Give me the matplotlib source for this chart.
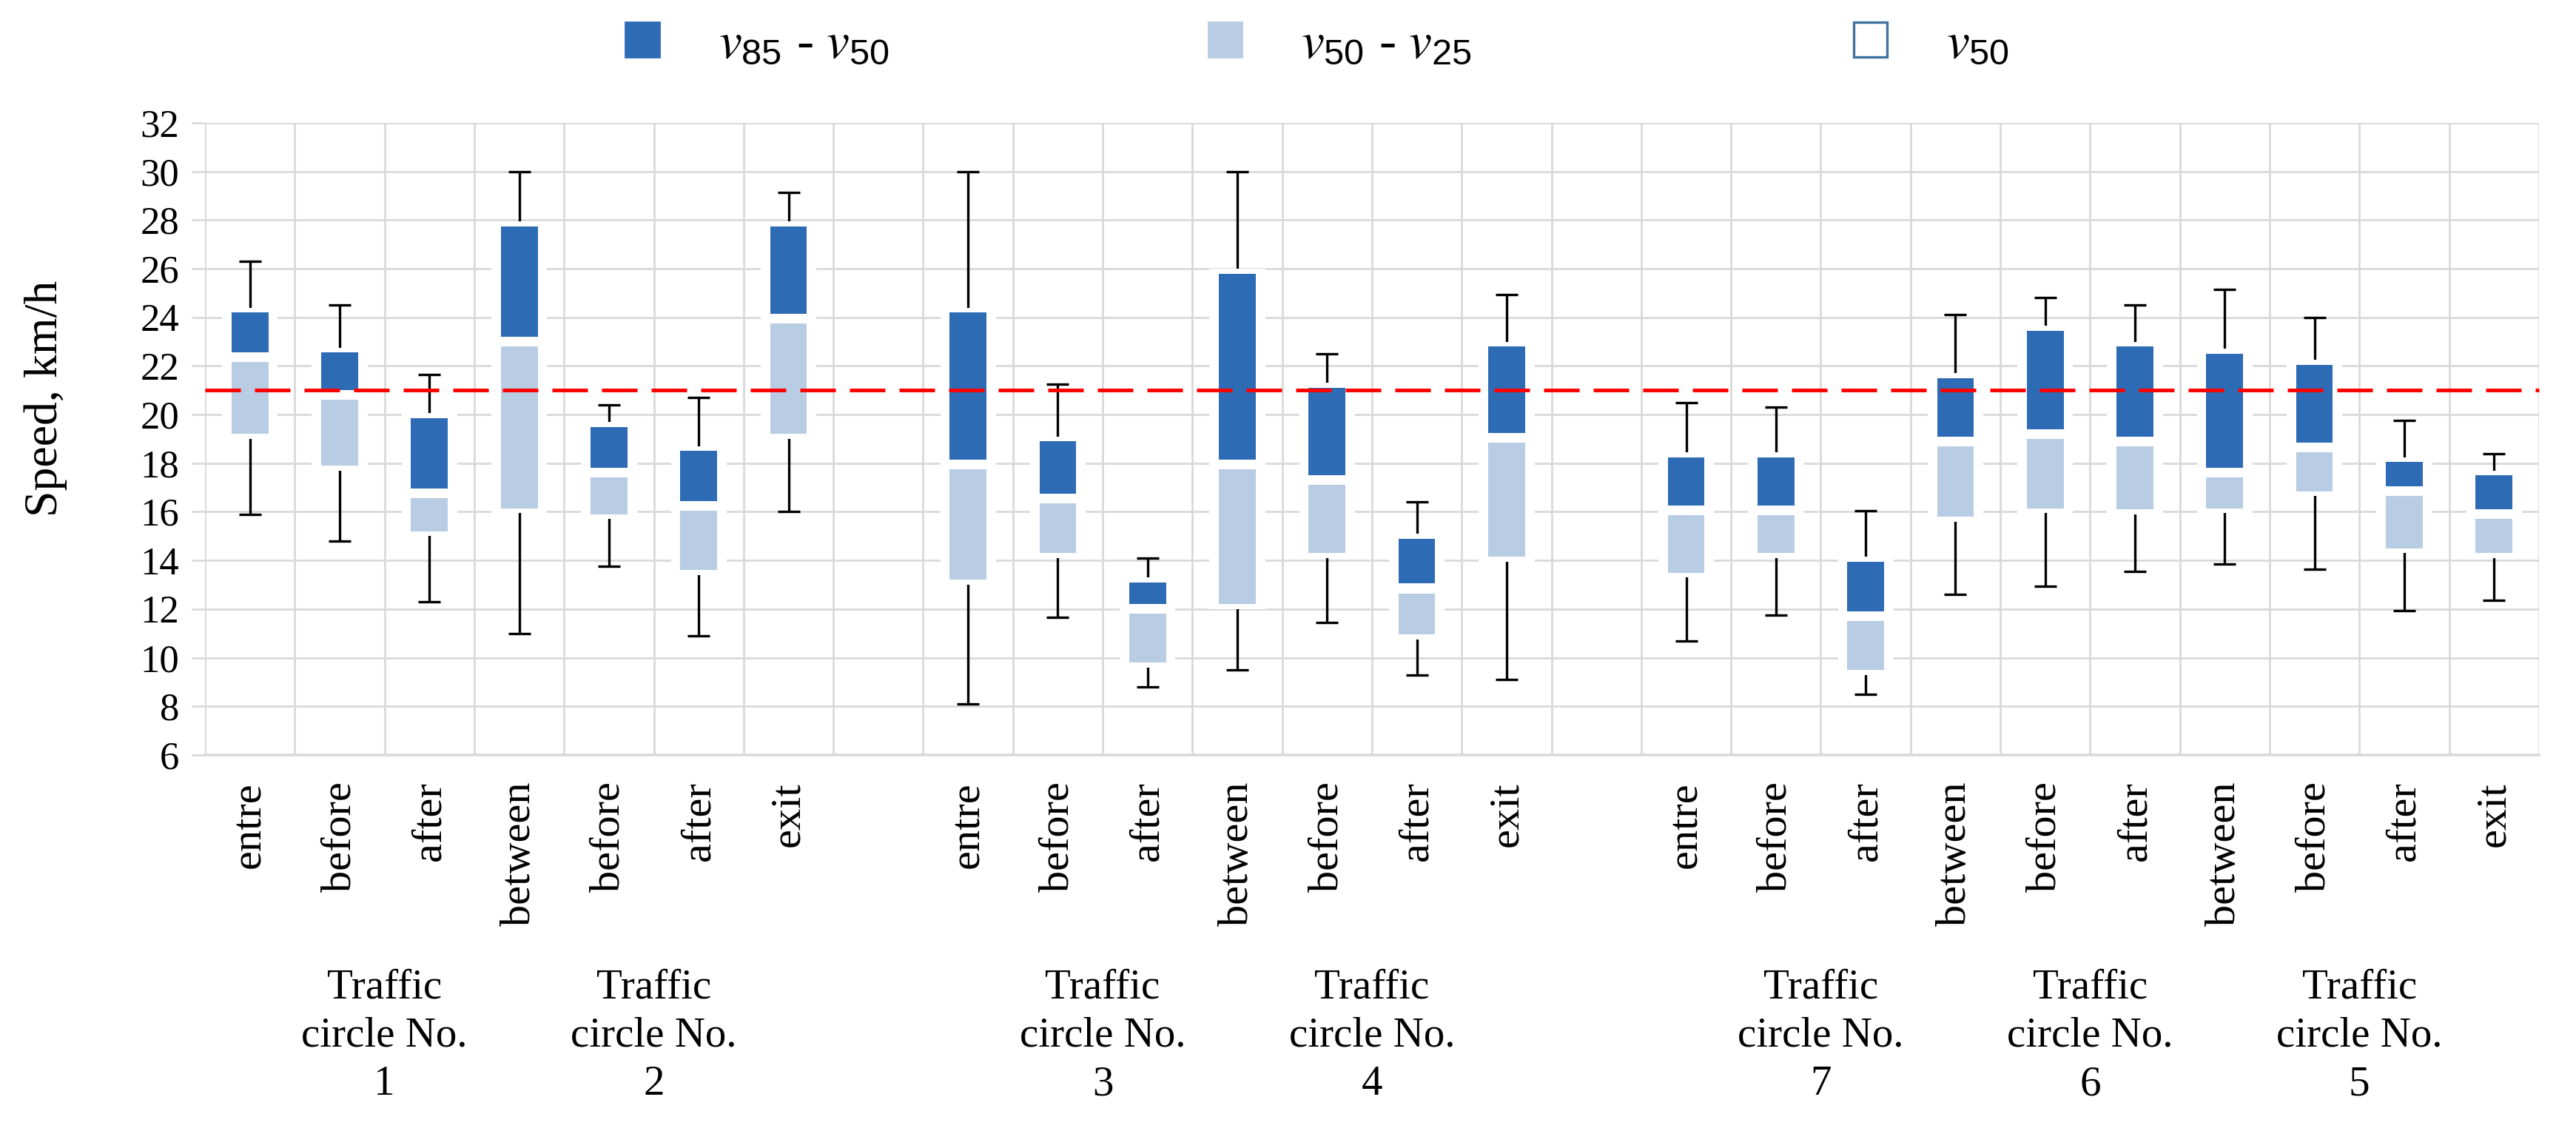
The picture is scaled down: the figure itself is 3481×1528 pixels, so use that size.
import numpy as np
import matplotlib
matplotlib.use("Agg")
import matplotlib.pyplot as plt
from matplotlib.patches import Patch

plt.rcParams['font.family'] = ['Liberation Serif', 'DejaVu Serif']
plt.rcParams['mathtext.fontset'] = 'custom'
plt.rcParams['mathtext.it'] = 'STIXGeneral:italic'
plt.rcParams['mathtext.rm'] = 'Liberation Sans'

# x categories ('' = empty slot between groups)
categories = ['entre', 'before', 'after', 'between', 'before', 'after', 'exit', '',
              'entre', 'before', 'after', 'between', 'before', 'after', 'exit', '',
              'entre', 'before', 'after', 'between', 'before', 'after',
              'between', 'before', 'after', 'exit']
nan = np.nan
v85 = [24.2, 22.55, 19.85, 27.75, 19.5, 18.5, 27.75, nan,
       24.2, 18.9, 13.1, 25.8, 21.1, 14.9, 22.8, nan,
       18.25, 18.25, 13.95, 21.5, 23.45, 22.8, 22.5, 22.05, 18.05, 17.5]
v50 = [22.35, 20.8, 16.75, 23.0, 17.6, 16.25, 23.95, nan,
       17.95, 16.55, 12.0, 17.95, 17.3, 12.85, 19.05, nan,
       16.05, 16.05, 11.7, 18.9, 19.2, 18.9, 17.6, 18.65, 16.85, 15.9]
v25 = [19.2, 17.9, 15.2, 16.15, 15.9, 13.6, 19.2, nan,
       13.2, 14.3, 9.8, 12.2, 14.3, 10.95, 14.15, nan,
       13.5, 14.3, 9.5, 15.8, 16.15, 16.1, 16.15, 16.85, 14.5, 14.3]
vmin = [15.9, 14.8, 12.3, 11.0, 13.75, 10.9, 16.0, nan,
        8.1, 11.65, 8.8, 9.5, 11.45, 9.3, 9.1, nan,
        10.7, 11.75, 8.5, 12.6, 12.95, 13.55, 13.85, 13.65, 11.95, 12.35]
vmax = [26.3, 24.5, 21.65, 30.0, 20.4, 20.7, 29.15, nan,
        30.0, 21.25, 14.1, 30.0, 22.5, 16.4, 24.95, nan,
        20.5, 20.3, 16.05, 24.1, 24.8, 24.5, 25.15, 24.0, 19.75, 18.4]
limit_speed = 21

# group labels: traffic circle number and the slot boundary it is centred on
circle_numbers = ['1', '2', '3', '4', '7', '6', '5']
circle_centres = [1.5, 4.5, 9.5, 12.5, 17.5, 20.5, 23.5]

dark = '#2E6BB5'
light = '#B8CCE4'

x = np.arange(len(categories))
v85 = np.array(v85)
v50 = np.array(v50)
v25 = np.array(v25)
vmin = np.array(vmin)
vmax = np.array(vmax)

fig = plt.figure(figsize=(17.405, 7.64), dpi=200)
ax = fig.add_axes([0.0796, 0.3325, 0.906, 0.5589])

w = 0.41
gap = 0.2
# whiskers (min..max) under the boxes
ax.errorbar(x, v50, yerr=[v50 - vmin, vmax - v50], fmt='none', ecolor='black',
            elinewidth=1.2, capsize=5.5, capthick=1.2, zorder=2)
# white halo around each box (hides grid and whisker)
ax.bar(x, (v85 - v25) + 2 * gap, bottom=v25 - gap, width=w + 0.21,
       color='white', zorder=3)
ax.bar(x, (v50 - gap) - v25, bottom=v25, width=w, color=light, zorder=4)
ax.bar(x, v85 - (v50 + gap), bottom=v50 + gap, width=w, color=dark, zorder=4)

ax.axhline(limit_speed, color='#FF0000', lw=1.8, ls=(0, (9.6, 3.8)), zorder=6,
           clip_on=False)

ax.set_xlim(-0.5, len(categories) - 0.5)
ax.set_ylim(6, 32)
ax.set_yticks(np.arange(6, 33, 2))
ax.set_xticks(x)
ax.set_xticklabels(categories, rotation=90, fontsize=21, va='top')
ax.set_xticks(np.arange(-0.5, len(categories), 1), minor=True)
ax.tick_params(axis='x', which='both', length=0, pad=13)
ax.tick_params(axis='y', length=6.5, width=1, color='#D9D9D9', labelsize=19, pad=6)
ax.grid(axis='y', which='major', color='#D9D9D9', lw=1, zorder=0)
ax.grid(axis='x', which='minor', color='#D9D9D9', lw=1, zorder=0)
ax.set_axisbelow(True)
for s in ['top', 'right', 'left']:
    ax.spines[s].set_visible(False)
ax.spines['bottom'].set_color('#D9D9D9')
ax.spines['bottom'].set_linewidth(1.3)
ax.set_ylabel('Speed, km/h', fontsize=23)
ax.yaxis.set_label_coords(-0.059, 0.564)

for num, cx in zip(circle_numbers, circle_centres):
    ax.text(cx, -0.445, 'Traffic\ncircle No.\n' + num, transform=ax.get_xaxis_transform(),
            ha='center', va='center', fontsize=20.5, linespacing=1.33)

handles = [Patch(facecolor=dark, edgecolor=dark),
           Patch(facecolor=light, edgecolor=light),
           Patch(facecolor='white', edgecolor='#41719C', lw=1.2)]
labels = [r'$v_{85}$ - $v_{50}$', r'$v_{50}$ - $v_{25}$', r'$v_{50}$']
legend_x = [0.2428, 0.469, 0.7195]
for h, lab, lx in zip(handles, labels, legend_x):
    fig.legend([h], [lab], loc='center left', bbox_to_anchor=(lx, 0.96),
               frameon=False, fontsize=25, handlelength=0.66, handleheight=0.66,
               handletextpad=1.15, borderpad=0, borderaxespad=0)

fig.savefig('out.png', dpi=200)
